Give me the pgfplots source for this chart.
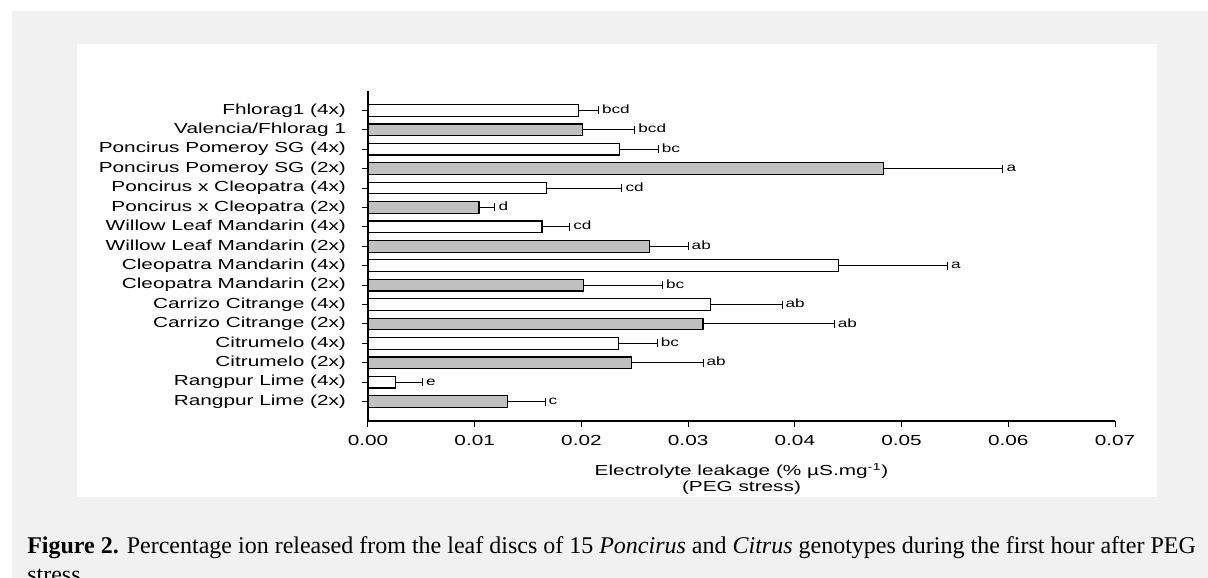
\documentclass[border=0pt]{standalone}
\usepackage{fontspec}
\setmainfont{Liberation Serif}
\newfontfamily\cf[FakeStretch=1.43]{Liberation Sans}
\usepackage{pgfplots}
\pgfplotsset{compat=1.18}
\usepackage{pgfplotstable}
\definecolor{bg}{HTML}{F1F1F1}
\definecolor{bargrey}{HTML}{C0C0C0}

% white bars (4x and Fhlorag1)
\pgfplotstableread{
idx v e lab
1 0.0026 0.0025 e
3 0.0235 0.0036 bc
5 0.0321 0.0067 ab
7 0.0441 0.0102 a
9 0.0163 0.0026 cd
11 0.0167 0.0071 cd
13 0.0236 0.0036 bc
15 0.0197 0.0019 bcd
}\whitebars
% grey bars (2x and Valencia/Fhlorag 1)
\pgfplotstableread{
idx v e lab
0 0.0131 0.0035 c
2 0.0247 0.0067 ab
4 0.0314 0.0123 ab
6 0.0202 0.0074 bc
8 0.0264 0.0036 ab
10 0.0104 0.0015 d
12 0.0483 0.0112 a
14 0.0201 0.0049 bcd
}\greybars

\begin{document}
\begin{tikzpicture}
\useasboundingbox (0,0) rectangle (906pt,-433.5pt);
\begin{scope}[x=0.75pt,y=-0.75pt]
\fill[white] (0,0) rectangle (1208,578);
\fill[bg] (12,11) rectangle (1208,578);
\fill[white] (77,44) rectangle (1157,497);
\node[anchor=base west, inner sep=0pt, font=\fontsize{18}{21}\selectfont] at (27,553)
  {\textbf{Figure 2.} Percentage ion released from the leaf discs of 15 \textit{Poncirus} and \textit{Citrus} genotypes during the first hour after PEG};
\node[anchor=base west, inner sep=0pt, font=\fontsize{18}{21}\selectfont] at (27,582) {stress};
\end{scope}
\begin{axis}[
  at={(276pt,-315.75pt)}, anchor=south west,
  scale only axis, width=560.25pt, height=247.5pt,
  xmin=0, xmax=0.07, ymin=-1, ymax=16,
  axis x line*=bottom, axis y line*=left,
  axis line style={black, line width=1pt},
  xtick={0,0.01,0.02,0.03,0.04,0.05,0.06,0.07},
  scaled x ticks=false,
  /pgf/number format/assume math mode=true,
  xticklabel style={/pgf/number format/fixed, /pgf/number format/fixed zerofill, /pgf/number format/precision=2, font=\cf\fontsize{10.9}{12}\selectfont, yshift=-2.5pt},
  ytick={0,...,15},
  yticklabels={Rangpur Lime (2x), Rangpur Lime (4x), Citrumelo (2x), Citrumelo (4x), Carrizo Citrange (2x), Carrizo Citrange (4x), Cleopatra Mandarin (2x), Cleopatra Mandarin (4x), Willow Leaf Mandarin (2x), Willow Leaf Mandarin (4x), Poncirus x Cleopatra (2x), Poncirus x Cleopatra (4x), Poncirus Pomeroy SG (2x), Poncirus Pomeroy SG (4x), Valencia/Fhlorag 1, Fhlorag1 (4x)},
  yticklabel style={font=\cf\fontsize{10.9}{12}\selectfont, xshift=-8.5pt},
  tick align=outside, major tick length=4.5pt,
  tick style={black, line width=0.75pt},
  xlabel={Electrolyte leakage (\% µS.mg\textsuperscript{-1})\\(PEG stress)},
  xlabel style={font=\cf\fontsize{10.9}{11.6}\selectfont, align=center, at={(axis description cs:0.5,0)}, anchor=north, inner sep=0pt, yshift=-31.5pt},
  clip=false,
  bar width=0.6,
]
\addplot[xbar, bar shift=0pt, fill=white, draw=black, line width=0.9pt,
  error bars/.cd, x dir=plus, x explicit, error mark=|,
  error bar style={black, line width=0.75pt},
  error mark options={black, line width=0.75pt, mark size=3pt}]
  table[x=v, y=idx, x error=e] {\whitebars};
\addplot[xbar, bar shift=0pt, fill=bargrey, draw=black, line width=0.9pt,
  error bars/.cd, x dir=plus, x explicit, error mark=|,
  error bar style={black, line width=0.75pt},
  error mark options={black, line width=0.75pt, mark size=3pt}]
  table[x=v, y=idx, x error=e] {\greybars};
\addplot[draw=none, mark=none, nodes near coords, point meta=explicit symbolic,
  nodes near coords style={anchor=mid west, inner sep=0pt, xshift=2.5pt, font=\cf\fontsize{9}{10}\selectfont}]
  table[x expr=\thisrow{v}+\thisrow{e}, y=idx, meta=lab] {\whitebars};
\addplot[draw=none, mark=none, nodes near coords, point meta=explicit symbolic,
  nodes near coords style={anchor=mid west, inner sep=0pt, xshift=2.5pt, font=\cf\fontsize{9}{10}\selectfont}]
  table[x expr=\thisrow{v}+\thisrow{e}, y=idx, meta=lab] {\greybars};
\end{axis}
\end{tikzpicture}
\end{document}
